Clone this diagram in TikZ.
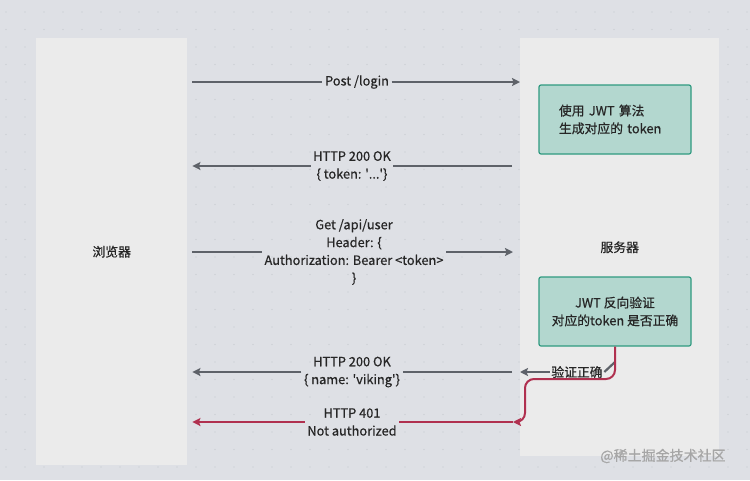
\documentclass[tikz,border=0pt]{standalone}
\usepackage{fontspec}
\setmainfont{Noto Sans CJK SC}[FakeBold=0.6]
\usetikzlibrary{arrows.meta}

\definecolor{bgcol}{HTML}{DEE0E5}
\definecolor{dotcol}{HTML}{C4C8CE}
\definecolor{panelcol}{HTML}{EBEBEB}
\definecolor{boxfill}{HTML}{B3D7CF}
\definecolor{boxline}{HTML}{2F9A80}
\definecolor{msggray}{HTML}{5E6269}
\definecolor{failred}{HTML}{B0304F}
\definecolor{txtcol}{HTML}{262626}

\begin{document}
\begin{tikzpicture}[x=1pt, y=-1pt,
  every node/.style={font=\fontsize{12.8}{17.8}\selectfont, text=txtcol},
  panel/.style={fill=panelcol, anchor=north west, inner sep=0pt},
  procbox/.style={fill=boxfill, draw=boxline, line width=1.2pt, rounded corners=2pt,
    minimum width=152pt, minimum height=69pt, inner sep=0pt},
  msglabel/.style={align=center, inner sep=2.5pt},
  msgline/.style={draw=msggray, line width=2.2pt},
  failline/.style={draw=failred, line width=2pt},
  >={Stealth[length=8pt,width=8pt,inset=1.5pt]}
]

% background with dot grid
\fill[bgcol] (0,0) rectangle (750,480);
\foreach \i in {0,...,39}
  \foreach \j in {0,...,26}
    \fill[dotcol] (6+19*\i, 12+17.5*\j) circle (0.7);

% the two sides
\node[panel, minimum width=151pt, minimum height=427pt] (browser) at (36,38) {浏览器};
\node[panel, minimum width=199pt, minimum height=418pt] (server) at (520,38) {服务器};

\node[procbox, text width=112pt, align=left] (sign) at (615,119.5) {使用 JWT 算法\\生成对应的 token};
\node[procbox, align=center] (verify) at (615,311.5) {JWT 反向验证\\对应的token 是否正确};

% login
\node[msglabel] (login) at (357,82) {Post /login};
\draw[msgline] ([xshift=5pt]browser.east |- login.west) -- (login.west);
\draw[msgline,->] (login.east) -- (server.west |- login.east);

% token back
\node[msglabel] (token) at (352,166) {HTTP 200 OK\\\{ token: \textquotesingle...\textquotesingle\}};
\draw[msgline,->] (token.west) -- ([xshift=5pt]browser.east |- token.west);
\draw[msgline] ([xshift=-8pt]server.west |- token.east) -- (token.east);

% request with token
\node[msglabel] (request) at (354,252) {Get /api/user\\Header: \{\\Authorization: Bearer <token>\\\}};
\draw[msgline] ([xshift=5pt]browser.east |- request.west) -- (request.west);
\draw[msgline,->] (request.east) -- ([xshift=-7pt]server.west |- request.east);

% verification result
\coordinate (tap) at (615,362);
\node[inner sep=1.5pt] (ok) at (577,372) {验证正确};
\draw[msgline] (tap) -- (ok.east);
\draw[msgline,->] (ok.west) -- (server.west |- ok.west);
\draw[failline,->, rounded corners=9pt] (verify.south) |- (525,379) |- ([xshift=-7pt]server.west |- 0,422);

% success
\node[msglabel] (user) at (352,372) {HTTP 200 OK\\\{ name: \textquotesingle viking\textquotesingle\}};
\draw[msgline,->] (user.west) -- ([xshift=5pt]browser.east |- user.west);
\draw[msgline] ([xshift=-8pt]server.west |- user.east) -- (user.east);

% failure
\node[msglabel] (deny) at (352,422) {HTTP 401\\Not authorized};
\draw[failline,->] (deny.west) -- ([xshift=5pt]browser.east |- deny.west);
\draw[failline] ([xshift=-7pt]server.west |- deny.east) -- (deny.east);

% watermark
\node[font=\fontsize{14}{14}\selectfont, text=black!35] (mark) at (663,456) {@稀土掘金技术社区};

\end{tikzpicture}
\end{document}
